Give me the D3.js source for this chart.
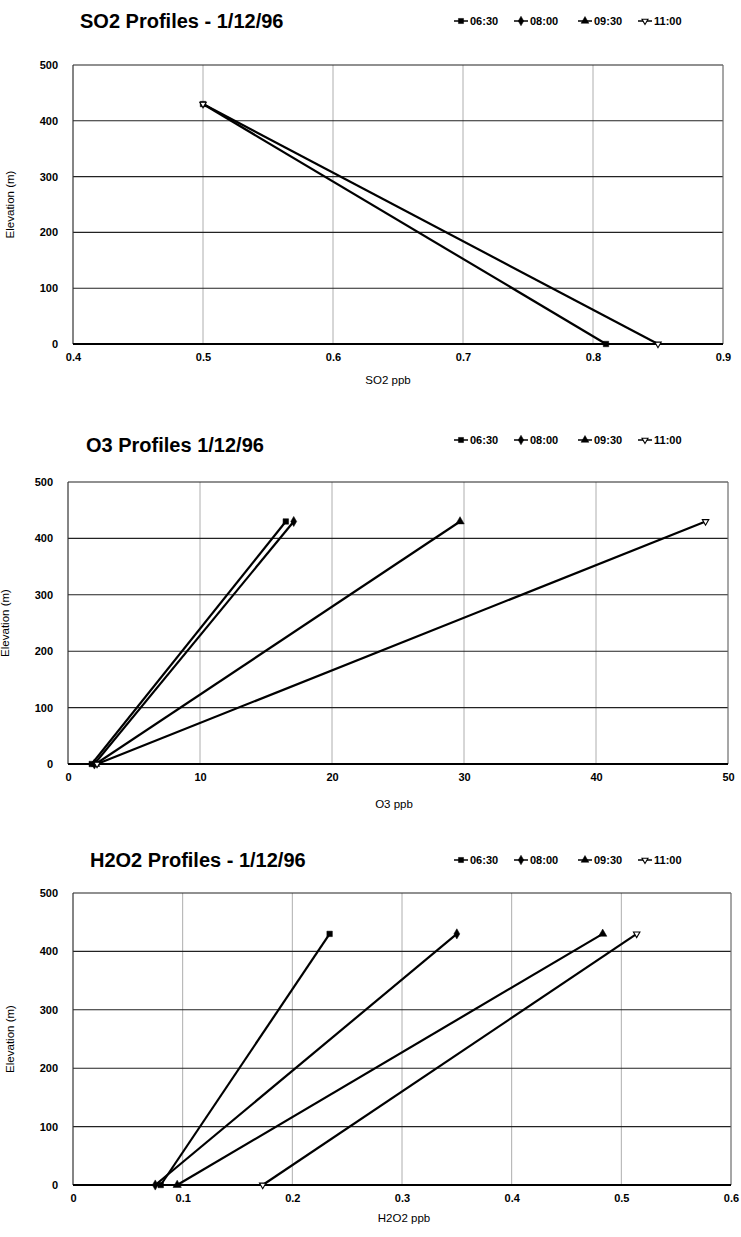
<html>
<head>
<script src="https://d3js.org/d3.v7.min.js"></script>
<style>
  body { margin: 0; background: #fff; }
  svg { font-family: "Liberation Sans", Arial, sans-serif; }
</style>
</head>
<body>
<svg id="chart"></svg>
<script>
// series names and marker types
const times = ["06:30", "08:00", "09:30", "11:00"];
const elevations = [0, 430];
const elevTicks = [0, 100, 200, 300, 400, 500];

// SO2 profiles (only two distinct traces visible)
const so2_0630 = [0.81, 0.50];
const so2_1100 = [0.85, 0.50];
const so2Ticks = [0.4, 0.5, 0.6, 0.7, 0.8, 0.9];

// O3 profiles
const o3_0630 = [1.8, 16.5];
const o3_0800 = [2.0, 17.1];
const o3_0930 = [2.1, 29.7];
const o3_1100 = [2.2, 48.3];
const o3Ticks = [0, 10, 20, 30, 40, 50];

// H2O2 profiles
const h2o2_0630 = [0.080, 0.234];
const h2o2_0800 = [0.075, 0.350];
const h2o2_0930 = [0.095, 0.483];
const h2o2_1100 = [0.173, 0.514];
const h2o2Ticks = [0, 0.1, 0.2, 0.3, 0.4, 0.5, 0.6];

const W = 741, H = 1237;
const svg = d3.select("#chart").attr("width", W).attr("height", H);

const symbolFor = {
  "06:30": d3.symbolSquare,
  "08:00": d3.symbolDiamond,
  "09:30": d3.symbolTriangle,
  "11:00": d3.symbolTriangle
};

function marker(g, t, x, y, size) {
  const open = t === "11:00";
  g.append("path")
    .attr("d", d3.symbol().type(symbolFor[t]).size(open ? size * 0.6 : size)())
    .attr("transform", `translate(${x},${y})` + (open ? " rotate(180)" : ""))
    .attr("fill", open ? "#fff" : "#000")
    .attr("stroke", "#000")
    .attr("stroke-width", open ? 1.1 : 0.5);
}

function drawPanel(p) {
  const x = d3.scaleLinear().domain(p.xDomain).range([p.left, p.right]);
  const y = d3.scaleLinear().domain([0, 500]).range([p.bottom, p.top]);
  const g = svg.append("g");

  // title
  g.append("text")
    .attr("x", p.titleX).attr("y", p.titleY)
    .style("font-size", "20px").style("font-weight", "bold")
    .text(p.title);

  // legend
  const legX = [461, 521, 585, 645];
  times.forEach((t, i) => {
    g.append("line")
      .attr("x1", legX[i] - 7).attr("x2", legX[i] + 7)
      .attr("y1", p.legendY).attr("y2", p.legendY)
      .attr("stroke", "#000").attr("stroke-width", 1.5);
    marker(g, t, legX[i], p.legendY, 26);
    g.append("text")
      .attr("x", legX[i] + 9).attr("y", p.legendY + 4)
      .style("font-size", "11px").style("font-weight", "bold")
      .text(t);
  });

  // vertical grid
  g.append("g").selectAll("line").data(p.xTicks).join("line")
    .attr("x1", d => x(d)).attr("x2", d => x(d))
    .attr("y1", p.top).attr("y2", p.bottom)
    .attr("stroke", "#999").attr("stroke-width", 0.8);

  // horizontal grid
  g.append("g").selectAll("line").data(elevTicks).join("line")
    .attr("x1", p.left).attr("x2", p.right)
    .attr("y1", d => y(d)).attr("y2", d => y(d))
    .attr("stroke", "#222").attr("stroke-width", 1.1);

  // frame
  g.append("line").attr("x1", p.left).attr("x2", p.left)
    .attr("y1", p.top).attr("y2", p.bottom).attr("stroke", "#333").attr("stroke-width", 1);
  g.append("line").attr("x1", p.right).attr("x2", p.right)
    .attr("y1", p.top).attr("y2", p.bottom).attr("stroke", "#777").attr("stroke-width", 1);
  g.append("line").attr("x1", p.left).attr("x2", p.right)
    .attr("y1", p.bottom).attr("y2", p.bottom).attr("stroke", "#000").attr("stroke-width", 2);

  // axes via d3 axes (labels only)
  const ax = g.append("g").attr("transform", `translate(0,${p.bottom + 6})`)
    .call(d3.axisBottom(x).tickValues(p.xTicks).tickSize(0).tickFormat(p.fmt));
  ax.select(".domain").remove();
  ax.selectAll("text").style("font-size", "11px").style("font-weight", "bold")
    .style("font-family", "Liberation Sans, Arial, sans-serif");

  const ay = g.append("g").attr("transform", `translate(${p.left - 12},0)`)
    .call(d3.axisLeft(y).tickValues(elevTicks).tickSize(0).tickFormat(d3.format("d")));
  ay.select(".domain").remove();
  ay.selectAll("text").style("font-size", "11px").style("font-weight", "bold")
    .style("font-family", "Liberation Sans, Arial, sans-serif");

  // axis titles
  g.append("text")
    .attr("transform", `translate(${p.left - 59},${(p.top + p.bottom) / 2}) rotate(-90)`)
    .attr("text-anchor", "middle")
    .style("font-size", "11.5px")
    .text("Elevation (m)");
  g.append("text")
    .attr("x", p.xLabelX).attr("y", p.xLabelY)
    .attr("text-anchor", "middle")
    .style("font-size", "11.5px")
    .text(p.xLabel);

  // series
  const line = d3.line().x(d => x(d[0])).y(d => y(d[1]));
  p.series.forEach(s => {
    const pts = s.values.map((v, i) => [v, elevations[i]]);
    g.append("path").datum(pts)
      .attr("d", line)
      .attr("fill", "none").attr("stroke", "#000").attr("stroke-width", 2.2);
    pts.forEach(pt => marker(g, s.time, x(pt[0]), y(pt[1]), 30));
  });
}

drawPanel({
  title: "SO2 Profiles - 1/12/96", titleX: 80, titleY: 28, legendY: 21,
  left: 73, right: 723, top: 65, bottom: 344,
  xDomain: [0.4, 0.9], xTicks: so2Ticks, fmt: d3.format(".1f"),
  xLabel: "SO2 ppb", xLabelX: 388, xLabelY: 384,
  series: [
    { time: "06:30", values: so2_0630 },
    { time: "11:00", values: so2_1100 }
  ]
});

drawPanel({
  title: "O3 Profiles 1/12/96", titleX: 86, titleY: 452, legendY: 440,
  left: 68, right: 728, top: 482, bottom: 764,
  xDomain: [0, 50], xTicks: o3Ticks, fmt: d3.format("d"),
  xLabel: "O3 ppb", xLabelX: 394, xLabelY: 808,
  series: [
    { time: "06:30", values: o3_0630 },
    { time: "08:00", values: o3_0800 },
    { time: "09:30", values: o3_0930 },
    { time: "11:00", values: o3_1100 }
  ]
});

drawPanel({
  title: "H2O2 Profiles - 1/12/96", titleX: 90, titleY: 867, legendY: 860,
  left: 73, right: 731, top: 893, bottom: 1185,
  xDomain: [0, 0.6], xTicks: h2o2Ticks, fmt: d => d === 0 ? "0" : d3.format(".1f")(d),
  xLabel: "H2O2 ppb", xLabelX: 404, xLabelY: 1222,
  series: [
    { time: "06:30", values: h2o2_0630 },
    { time: "08:00", values: h2o2_0800 },
    { time: "09:30", values: h2o2_0930 },
    { time: "11:00", values: h2o2_1100 }
  ]
});
</script>
</body>
</html>
